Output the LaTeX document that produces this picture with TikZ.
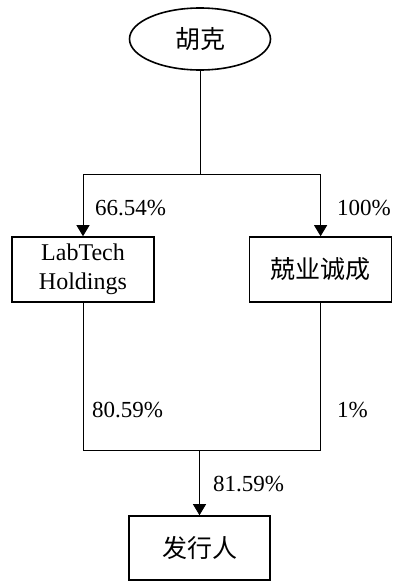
\documentclass[tikz,border=0pt]{standalone}
\usepackage{fontspec}
\setmainfont{Liberation Serif}
\newfontfamily\cjk{Noto Sans CJK SC}
\usetikzlibrary{positioning,shapes.geometric,arrows.meta}

\begin{document}
\begin{tikzpicture}[x=1pt, y=1pt,
    every node/.style={font=\fontsize{23}{28}\selectfont},
    ownernode/.style={ellipse, draw, line width=1.6pt, minimum width=141pt, minimum height=62pt, font=\fontsize{25}{28}\cjk},
    boxnode/.style={rectangle, draw, line width=1.6pt, minimum width=142pt, minimum height=65pt, align=center, inner sep=2pt, font=\fontsize{24}{29}\selectfont},
    link/.style={line width=0.8pt},
    pct/.style={anchor=west, inner sep=0pt},]
    \useasboundingbox (0,0) rectangle (393,-581);
    % nodes
    \node[ownernode]      (huke)                  at (200,-39)          {胡克};
    \node[boxnode]        (labtech)               at (83,-269.5)        {LabTech\\Holdings};
    \node[boxnode]        (jingye)                [right=94pt of labtech] {\fontsize{25}{28}\cjk 兢业诚成};
    \node[boxnode, minimum width=141pt, minimum height=64pt] (issuer) at (199.5,-548) {\fontsize{25}{28}\cjk 发行人};
    \coordinate (split) at (200,-174);
    \coordinate (join)  at (199.5,-450);
    % lines
    \draw[link] (huke.south) -- (split);
    \draw[link, -{Triangle[width=13pt,length=11pt]}] (split) -| (labtech.north);
    \draw[link, -{Triangle[width=13pt,length=11pt]}] (split) -| (jingye.north);
    \draw[link] (labtech.south) |- (join);
    \draw[link] (jingye.south) |- (join);
    \draw[link, -{Triangle[width=13pt,length=11pt]}] (join) -- (issuer.north);
    % shares
    \node[pct]  (p1)  at (95,-208)   {66.54\%};
    \node[pct]  (p2)  at (337,-208)  {100\%};
    \node[pct]  (p3)  at (92,-410)   {80.59\%};
    \node[pct]  (p4)  at (337,-410)  {1\%};
    \node[pct]  (p5)  at (213,-484)  {81.59\%};
\end{tikzpicture}
\end{document}
